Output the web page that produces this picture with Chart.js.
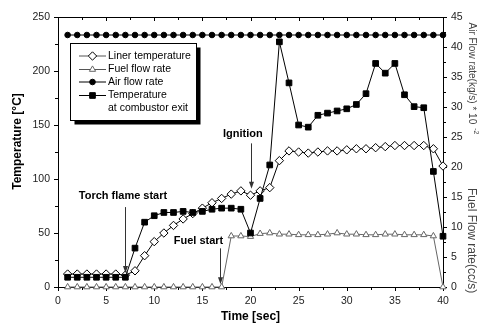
<!DOCTYPE html>
<html>
<head>
<meta charset="utf-8">
<script src="https://cdn.jsdelivr.net/npm/chart.js@4/dist/chart.umd.min.js"></script>
<style>
  html, body { margin: 0; padding: 0; background: #fff; }
  canvas { display: block; }
</style>
</head>
<body>
<canvas id="chart" width="480" height="325"></canvas>
<script>
// time axis, seconds
const timeSec = [1, 2, 3, 4, 5, 6, 7, 8, 9, 10, 11, 12, 13, 14, 15, 16, 17, 18, 19, 20,
                 21, 22, 23, 24, 25, 26, 27, 28, 29, 30, 31, 32, 33, 34, 35, 36, 37, 38, 39, 40];

// left axis, degC
const linerTemp = [12, 12, 12, 12, 12, 12, 11, 15, 29, 42, 50, 57, 63, 68, 73, 78, 82, 86, 89, 85,
                   89, 92, 117, 126, 125, 124, 125, 126, 126, 127, 128, 128, 129, 130, 131, 131, 131, 131, 128, 112];
const exitTemp = [9, 9, 9, 9, 9, 9, 9, 36, 60, 66, 69, 69, 70, 69, 70, 72, 73, 73, 72, 50,
                  82, 113, 227, 189, 150, 148, 159, 161, 163, 165, 169, 179, 207, 198, 207, 178, 167, 166, 107, 47];

// right axis: cc/s and kg/s * 10^-2
const fuelFlow = [0, 0, 0, 0, 0, 0, 0, 0, 0, 0, 0, 0, 0, 0, 0, 0, 0, 8.5, 8.5, 8.4,
                  8.9, 9.0, 8.8, 8.8, 8.7, 8.7, 8.7, 8.8, 9.0, 8.8, 8.8, 8.7, 8.7, 8.8, 8.8, 8.7, 8.7, 8.7, 8.5, 0];
const airFlow = [42, 42, 42, 42, 42, 42, 42, 42, 42, 42, 42, 42, 42, 42, 42, 42, 42, 42, 42, 42,
                 42, 42, 42, 42, 42, 42, 42, 42, 42, 42, 42, 42, 42, 42, 42, 42, 42, 42, 42, 42];

const seriesNames = ['Liner temperature', 'Fuel flow rate', 'Air flow rate', 'Temperature', 'at combustor exit'];

// text callouts with arrows (data units)
const callouts = [
  { text: 'Torch flame start', tx: 6.75, ty: 84, ax: 7, from: 74, to: 13 },
  { text: 'Ignition', tx: 19.2, ty: 142, ax: 20, from: 133, to: 91 },
  { text: 'Fuel start', tx: 14.6, ty: 42.3, ax: 16.85, from: 35.8, to: 2.5 }
];

const FONT = '"Liberation Sans", Arial, sans-serif';

function pairs(ys) {
  return ys.map((y, i) => ({ x: timeSec[i], y: y }));
}

const datasets = [
  {
    label: seriesNames[3],
    data: pairs(exitTemp),
    yAxisID: 'y',
    borderColor: '#000', borderWidth: 1,
    pointStyle: 'rect', pointRadius: 4,
    pointBackgroundColor: '#000', pointBorderColor: '#000', pointBorderWidth: 1,
    legendLine: '#000',
    order: 1
  },
  {
    label: seriesNames[0],
    data: pairs(linerTemp),
    yAxisID: 'y',
    borderColor: '#000', borderWidth: 1,
    pointStyle: 'rectRot', pointRadius: 4.2,
    pointBackgroundColor: '#fff', pointBorderColor: '#000', pointBorderWidth: 1,
    legendLine: '#555',
    order: 2
  },
  {
    label: seriesNames[1],
    data: pairs(fuelFlow),
    yAxisID: 'y2',
    borderColor: '#666', borderWidth: 1,
    pointStyle: 'triangle', pointRadius: 3.6,
    pointBackgroundColor: '#fff', pointBorderColor: '#666', pointBorderWidth: 1,
    legendLine: '#555',
    order: 3
  },
  {
    label: seriesNames[2],
    data: pairs(airFlow),
    yAxisID: 'y2',
    borderColor: '#000', borderWidth: 1,
    pointStyle: 'circle', pointRadius: 2.8,
    pointBackgroundColor: '#000', pointBorderColor: '#000', pointBorderWidth: 1,
    legendLine: '#000',
    order: 4
  }
];

// frame and tick marks, drawn under the data
const framePlugin = {
  id: 'frame',
  beforeDatasetsDraw(chart) {
    const ctx = chart.ctx;
    const a = chart.chartArea;
    const sx = chart.scales.x, sy = chart.scales.y, s2 = chart.scales.y2;
    ctx.save();
    ctx.strokeStyle = '#000';
    ctx.lineWidth = 1;
    ctx.strokeRect(Math.round(a.left) + 0.5, Math.round(a.top) + 0.5,
                   Math.round(a.right - a.left), Math.round(a.bottom - a.top));
    ctx.beginPath();
    for (let v = 0; v <= 40; v += 2.5) {
      const x = Math.round(sx.getPixelForValue(v)) + 0.5;
      const len = v % 5 === 0 ? 4 : 3;
      ctx.moveTo(x, a.bottom); ctx.lineTo(x, a.bottom + len);
      ctx.moveTo(x, a.top); ctx.lineTo(x, a.top + len);
    }
    for (let v = 0; v <= 250; v += 25) {
      const y = Math.round(sy.getPixelForValue(v)) + 0.5;
      const len = v % 50 === 0 ? 4 : 3;
      ctx.moveTo(a.left, y); ctx.lineTo(a.left - len, y);
    }
    for (let v = 0; v <= 45; v += 2.5) {
      const y = Math.round(s2.getPixelForValue(v)) + 0.5;
      const len = v % 5 === 0 ? 4 : 3;
      ctx.moveTo(a.right, y); ctx.lineTo(a.right + len, y);
    }
    ctx.stroke();
    ctx.restore();
  }
};

// legend box, callouts and axis titles
const overlayPlugin = {
  id: 'overlay',
  afterDatasetsDraw(chart) {
    const ctx = chart.ctx;
    const sx = chart.scales.x, sy = chart.scales.y;
    ctx.save();

    // legend with drop shadow
    const bx = 70.5, by = 43.5, bw = 126, bh = 77;
    ctx.fillStyle = '#000';
    ctx.fillRect(bx + 4, by + 4, bw, bh);
    ctx.fillStyle = '#fff';
    ctx.fillRect(bx, by, bw, bh);
    ctx.strokeStyle = '#000';
    ctx.lineWidth = 1;
    ctx.strokeRect(bx, by, bw, bh);

    const order = [1, 2, 3, 0];
    const rows = [56, 69.5, 82, 95.5];
    ctx.font = '10.5px ' + FONT;
    ctx.textBaseline = 'middle';
    ctx.textAlign = 'left';
    order.forEach((di, i) => {
      const ds = datasets[di];
      const y = rows[i];
      ctx.strokeStyle = ds.legendLine;
      ctx.beginPath();
      ctx.moveTo(79, y); ctx.lineTo(106, y);
      ctx.stroke();
      ctx.fillStyle = ds.pointBackgroundColor;
      ctx.strokeStyle = ds.pointBorderColor;
      ctx.lineWidth = 1;
      Chart.helpers.drawPoint(ctx, {
        pointStyle: ds.pointStyle, radius: ds.pointRadius, rotation: 0, borderWidth: 1
      }, 92.5, y);
      ctx.fillStyle = '#000';
      ctx.fillText(ds.label, 108, y);
    });
    ctx.fillText(seriesNames[4], 108, 108.5);

    // callouts
    ctx.font = 'bold 11px ' + FONT;
    ctx.textAlign = 'center';
    ctx.fillStyle = '#000';
    callouts.forEach(c => {
      ctx.fillText(c.text, sx.getPixelForValue(c.tx), sy.getPixelForValue(c.ty));
      const x = Math.round(sx.getPixelForValue(c.ax)) + 0.5;
      const y0 = sy.getPixelForValue(c.from), y1 = sy.getPixelForValue(c.to);
      ctx.strokeStyle = '#333';
      ctx.fillStyle = '#333';
      ctx.beginPath();
      ctx.moveTo(x, y0); ctx.lineTo(x, y1 - 5);
      ctx.stroke();
      ctx.beginPath();
      ctx.moveTo(x, y1); ctx.lineTo(x - 2.5, y1 - 7); ctx.lineTo(x + 2.5, y1 - 7);
      ctx.closePath();
      ctx.fill();
      ctx.fillStyle = '#000';
    });

    // axis titles
    ctx.fillStyle = '#000';
    ctx.font = 'bold 12px ' + FONT;
    ctx.textAlign = 'center';
    ctx.fillText('Time [sec]', (chart.chartArea.left + chart.chartArea.right) / 2, 316.5);

    ctx.save();
    ctx.translate(18, 141.5);
    ctx.rotate(-Math.PI / 2);
    ctx.fillText('Temperature [°C]', 0, 0);
    ctx.restore();

    ctx.fillStyle = '#444';
    ctx.textAlign = 'left';
    ctx.save();
    ctx.translate(471.5, 22.5);
    ctx.rotate(Math.PI / 2);
    ctx.font = '10px ' + FONT;
    const airTitle = 'Air Flow rate(kg/s) * 10';
    ctx.fillText(airTitle, 0, 0);
    const w = ctx.measureText(airTitle).width;
    ctx.font = '7px ' + FONT;
    ctx.fillText('-2', w + 4, -4);
    ctx.restore();

    ctx.save();
    ctx.translate(471.5, 188);
    ctx.rotate(Math.PI / 2);
    ctx.font = '12px ' + FONT;
    ctx.fillText('Fuel Flow rate(cc/s)', 0, 0);
    ctx.restore();

    ctx.restore();
  }
};

const tickFont = { family: FONT, size: 10.5 };

new Chart(document.getElementById('chart'), {
  type: 'line',
  data: { datasets: datasets },
  options: {
    responsive: false,
    animation: false,
    devicePixelRatio: 1,
    layout: { padding: { top: 17, left: 0, right: 0, bottom: 0 } },
    elements: { line: { tension: 0 } },
    plugins: { legend: { display: false }, tooltip: { enabled: false } },
    datasets: { line: { clip: false } },
    scales: {
      x: {
        type: 'linear', min: 0, max: 40,
        grid: { display: false, drawTicks: false },
        border: { display: false },
        ticks: { stepSize: 5, font: tickFont, color: '#222', padding: 8, maxRotation: 0 },
        afterFit(s) { s.height = 38; }
      },
      y: {
        type: 'linear', position: 'left', min: 0, max: 250,
        grid: { display: false, drawTicks: false },
        border: { display: false },
        ticks: { stepSize: 50, font: tickFont, color: '#222', padding: 8 },
        afterFit(s) { s.width = 58; }
      },
      y2: {
        type: 'linear', position: 'right', min: 0, max: 45,
        grid: { display: false, drawTicks: false },
        border: { display: false },
        ticks: { stepSize: 5, font: tickFont, color: '#222', padding: 8 },
        afterFit(s) { s.width = 37; }
      }
    }
  },
  plugins: [framePlugin, overlayPlugin]
});
</script>
</body>
</html>
